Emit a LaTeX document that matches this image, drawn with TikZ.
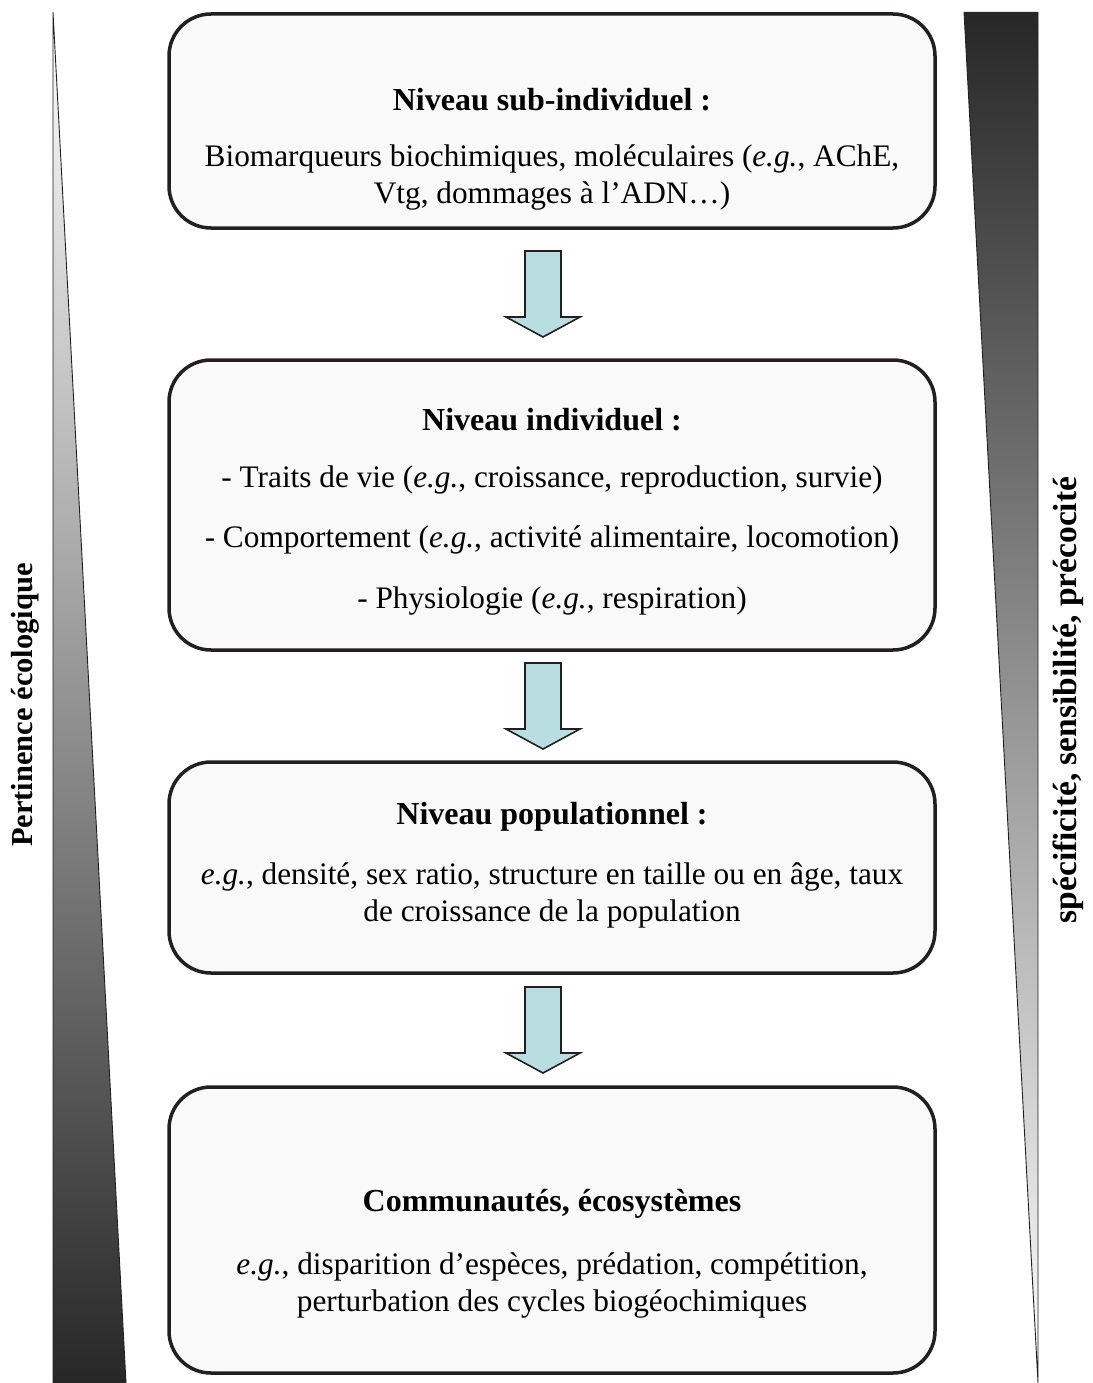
\documentclass[tikz,border=0pt]{standalone}
\usepackage{fontspec}
\setmainfont{Liberation Serif}
\usetikzlibrary{calc}
\definecolor{boxline}{RGB}{35,31,32}
\definecolor{boxfill}{RGB}{249,249,249}
\definecolor{arrfill}{RGB}{184,222,226}
\definecolor{darkg}{RGB}{40,39,40}
\definecolor{midg}{RGB}{155,156,159}
\begin{document}
\begin{tikzpicture}[x=1pt,y=-1pt,
  levelbox/.style={draw=boxline, fill=boxfill, line width=3.5pt, rounded corners=42pt, minimum width=766pt, inner sep=0pt},
  txt/.style={font=\fontsize{31.3}{37}\selectfont, align=center, inner sep=0pt},
  ttl/.style={font=\fontsize{32}{37}\selectfont\bfseries, inner sep=0pt},
  blockarrow/.style={draw=boxline, fill=arrfill, line width=1.6pt, line join=miter},
  side/.style={rotate=90, inner sep=0pt}]
\useasboundingbox (0,0) rectangle (1092,1383);

% side wedges
\shade[top color=white, middle color=midg, bottom color=darkg] (53,12) -- (126,1383) -- (53,1383) -- cycle;
\draw[boxline, line width=0.9pt] (53,1383) -- (53,12) -- (126,1383);
\shade[top color=darkg, middle color=midg, bottom color=white] (964,12) -- (1038,12) -- (1038,1383) -- cycle;
\draw[boxline, line width=0.9pt] (964,12) -- (1038,1383) -- (1038,12);

\node[side, font=\fontsize{30.5}{37}\selectfont\bfseries] (left) at (25,705) {Pertinence écologique};
\node[side, font=\fontsize{33.5}{37}\selectfont\bfseries] (right) at (1068,700) {spécificité, sensibilité, précocité};

% boxes
\node[levelbox, minimum height=214pt] (b1) at (552,121) {};
\node[levelbox, minimum height=290pt] (b2) at (552,505) {};
\node[levelbox, minimum height=211pt] (b3) at (552,867.5) {};
\node[levelbox, minimum height=286pt] (b4) at (552,1230) {};

% texts
\node[ttl] (t1) at (552,100) {Niveau sub-individuel :};
\node[txt] (d1) at (552,177.5) {Biomarqueurs biochimiques, moléculaires (\textit{e.g.}, AChE,\\ Vtg, dommages à l’ADN…)};

\node[ttl] (t2) at (552,420) {Niveau individuel :};
\node[txt] (d2) at (552,540.5) {- Traits de vie (\textit{e.g.}, croissance, reproduction, survie)\\[23.5pt] - Comportement (\textit{e.g.}, activité alimentaire, locomotion)\\[23.5pt] - Physiologie (\textit{e.g.}, respiration)};

\node[ttl] (t3) at (552,817) {Niveau populationnel :};
\node[txt] (d3) at (552,895.5) {\textit{e.g.}, densité, sex ratio, structure en taille ou en âge, taux\\ de croissance de la population};

\node[ttl] (t4) at (552,1204) {Communautés, écosystèmes};
\node[txt] (d4) at (552,1285.5) {\textit{e.g.}, disparition d’espèces, prédation, compétition,\\ perturbation des cycles biogéochimiques};

% block arrows between boxes
\foreach \u/\v/\n in {b1/b2/a1, b2/b3/a2, b3/b4/a3}{
  \coordinate (\n) at ($(\u.south)!0.5!(\v.north)+(-9,0)$);
  \draw[blockarrow] ($(\n)+(-18,-43)$) -- ($(\n)+(18,-43)$) -- ($(\n)+(18,23)$) -- ($(\n)+(37,23)$) -- ($(\n)+(0,43)$) -- ($(\n)+(-37,23)$) -- ($(\n)+(-18,23)$) -- cycle;
}
\end{tikzpicture}
\end{document}
